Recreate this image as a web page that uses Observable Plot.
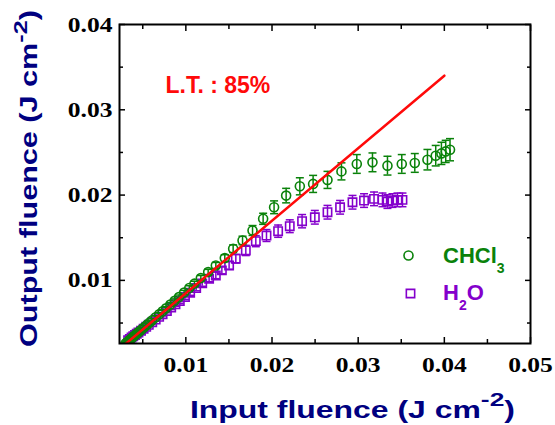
<!DOCTYPE html>
<html><head><meta charset="utf-8">
<script src="https://cdn.jsdelivr.net/npm/d3@7"></script>
<script src="https://cdn.jsdelivr.net/npm/@observablehq/plot@0.6"></script>
<style>
html,body{margin:0;padding:0;background:#fff;}
#chart{width:555px;height:425px;}
</style></head><body><div id="chart"></div>
<script>
// CHCl3 series (input fluence, output fluence, error)
const chclX = [0.0030,0.0032,0.0034,0.0036,0.0038,0.0040,0.0042,0.0044,0.0046,0.0049,0.0052,0.0055,0.0058,0.0061,0.0065,0.0069,0.0073,0.0077,0.0082,0.0087,0.0092,0.0098,0.0104,0.0110,
  0.01174,0.01259,0.01348,0.01452,0.01549,0.01658,0.01774,0.01897,0.02024,0.02164,0.02323,0.02477,0.02644,0.02806,0.02984,0.03166,0.0334,0.03506,0.03657,0.03804,0.0390,0.03966,0.04016,0.04066];
const chclY = [0.00261,0.00278,0.00296,0.00313,0.00331,0.00348,0.00366,0.00384,0.00401,0.00427,0.00453,0.00480,0.00506,0.00532,0.00567,0.00602,0.00637,0.00672,0.00716,0.00760,0.00804,0.00857,0.00910,0.00962,
  0.01027,0.01097,0.01175,0.01261,0.01371,0.01468,0.01585,0.01722,0.01857,0.01994,0.02103,0.02131,0.02178,0.02278,0.02365,0.02384,0.02345,0.02365,0.02377,0.02415,0.02462,0.02489,0.02512,0.02532];
const chclErr = [0.0001,0.0001,0.0001,0.00011,0.00011,0.00012,0.00012,0.00013,0.00013,0.00014,0.00015,0.00016,0.00017,0.00017,0.00018,0.00019,0.0002,0.00021,0.00022,0.00023,0.00024,0.00025,0.00027,0.00028,
  0.0003,0.00032,0.00035,0.0004,0.00045,0.0005,0.00058,0.00065,0.00075,0.00085,0.001,0.001,0.001,0.001,0.0011,0.0011,0.0011,0.0011,0.0011,0.0012,0.0012,0.0013,0.0013,0.0013];

// H2O series
const h2oX = [0.0033,0.0035,0.0037,0.0039,0.0041,0.0043,0.0045,0.0048,0.0051,0.0054,0.0057,0.0061,0.0065,0.0069,0.0073,0.0078,0.0083,0.0088,0.0093,0.0099,0.0105,0.0112,0.0119,
  0.0127,0.01348,0.01418,0.01502,0.0158,0.01696,0.01812,0.01936,0.02071,0.02206,0.02349,0.02497,0.02644,0.0279,0.02934,0.03068,0.03184,0.03282,0.0334,0.03398,0.03456,0.03514];
const h2oY = [0.00298,0.00314,0.0033,0.00345,0.0036,0.00374,0.00388,0.0041,0.00433,0.00456,0.00479,0.0051,0.00541,0.00572,0.00603,0.00642,0.00681,0.0072,0.00759,0.00806,0.00855,0.0091,0.00965,
  0.0102,0.01058,0.01117,0.01175,0.01254,0.01351,0.0146,0.01526,0.01577,0.01635,0.01694,0.0174,0.01799,0.01857,0.01916,0.01936,0.01956,0.01944,0.01924,0.01936,0.01944,0.01944];
const h2oErr = [0.0001,0.00011,0.00012,0.00012,0.00013,0.00013,0.00014,0.00014,0.00015,0.00016,0.00017,0.00018,0.00019,0.0002,0.00021,0.00022,0.00024,0.00025,0.00027,0.00028,0.0003,0.00032,0.00034,
  0.00036,0.00038,0.0004,0.00045,0.0005,0.0006,0.00065,0.0007,0.00072,0.00075,0.00078,0.0008,0.0008,0.0008,0.0008,0.0008,0.0008,0.0008,0.0008,0.0008,0.0008,0.0008];

// Linear transmittance line (85 %)
const ltX = [0.0030, 0.0400];
const ltY = [0.00255, 0.0340];
const ltLabel = ["L.T. : 85%"];

const xTicks = [0.01, 0.02, 0.03, 0.04, 0.05];
const xMinor = [0.005, 0.015, 0.025, 0.035, 0.045];
const yTicks = [0.01, 0.02, 0.03, 0.04];
const yMinor = [0.005, 0.015, 0.025, 0.035];

const GREEN = "#0a820a", PURPLE = "#8400cc", RED = "#ff0a0a", NAVY = "#000080";

const chcl = chclX.map((x, i) => ({x, y: chclY[i], e: chclErr[i]}));
const h2o = h2oX.map((x, i) => ({x, y: h2oY[i], e: h2oErr[i]}));
const lt = ltX.map((x, i) => ({x, y: ltY[i]}));

const capSymbol = { draw(ctx, size) { const w = Math.sqrt(size / Math.PI); ctx.moveTo(-w, 0); ctx.lineTo(w, 0); } };
const sans = "Liberation Sans, Arial, sans-serif";
const serif = "Liberation Serif, serif";

function errMarks(data, color, symbol) {
  return [
    Plot.ruleX(data, {x: "x", y1: d => d.y - d.e, y2: d => d.y + d.e, stroke: color, strokeWidth: 1.5, clip: true}),
    Plot.dot(data, {x: "x", y: d => d.y + d.e, symbol: capSymbol, r: 4, stroke: color, strokeWidth: 1.5, fill: "none", clip: true}),
    Plot.dot(data, {x: "x", y: d => d.y - d.e, symbol: capSymbol, r: 4, stroke: color, strokeWidth: 1.5, fill: "none", clip: true}),
    Plot.dot(data, {x: "x", y: "y", symbol, r: symbol === "circle" ? 4.5 : 4.7, stroke: color, strokeWidth: 1.6, fill: "none", clip: true})
  ];
}
const tickOpts = {tickFormat: () => "", label: null, strokeWidth: 1.5};

const plot = Plot.plot({
  width: 555, height: 425,
  marginLeft: 119, marginRight: 25, marginTop: 24, marginBottom: 82,
  style: {background: "white", color: "black"},
  x: {domain: [0.0023, 0.05], label: null},
  y: {domain: [0.0026, 0.04], label: null},
  marks: [
    Plot.axisX(xTicks, {anchor: "bottom", tickSize: -6, ...tickOpts}),
    Plot.axisX(xMinor, {anchor: "bottom", tickSize: -4, ...tickOpts}),
    Plot.axisX(xTicks, {anchor: "top", tickSize: -6, ...tickOpts}),
    Plot.axisX(xMinor, {anchor: "top", tickSize: -4, ...tickOpts}),
    Plot.axisY(yTicks, {anchor: "left", tickSize: -6, ...tickOpts}),
    Plot.axisY(yMinor, {anchor: "left", tickSize: -4, ...tickOpts}),
    Plot.axisY(yTicks, {anchor: "right", tickSize: -6, ...tickOpts}),
    Plot.axisY(yMinor, {anchor: "right", tickSize: -4, ...tickOpts}),
    Plot.axisX(xTicks, {anchor: "bottom", tickSize: 0, tickPadding: 13, tickFormat: d => d.toFixed(2), label: null, fontSize: 22, fontFamily: serif, fontWeight: "bold", fill: "black"}),
    Plot.axisY(yTicks, {anchor: "left", tickSize: 0, tickPadding: 7, tickFormat: d => d.toFixed(2), label: null, fontSize: 22, fontFamily: serif, fontWeight: "bold", fill: "black"}),
    ...errMarks(h2o, PURPLE, "square"),
    ...errMarks(chcl, GREEN, "circle"),
    Plot.line(lt, {x: "x", y: "y", stroke: RED, strokeWidth: 2.5, clip: true}),
    Plot.text(ltLabel, {frameAnchor: "top-left", dx: 46, dy: 68, text: d => d, textAnchor: "start", lineAnchor: "bottom", fill: RED, fontSize: 23, fontFamily: sans, fontWeight: "bold"}),
    Plot.dot([0], {frameAnchor: "top-left", dx: 289, dy: 231, symbol: "circle", r: 4.5, stroke: GREEN, strokeWidth: 1.6, fill: "none"}),
    Plot.dot([0], {frameAnchor: "top-left", dx: 291, dy: 269, symbol: "square", r: 4.7, stroke: PURPLE, strokeWidth: 1.6, fill: "none"}),
    Plot.frame({stroke: "black", strokeWidth: 2})
  ]
});
document.getElementById("chart").append(plot);
const svg = d3.select(plot);

// horizontally widened tick labels like the reference
svg.selectAll('g[aria-label$="tick label"] text').each(function () {
  const w = this.getComputedTextLength();
  if (w > 0) { this.setAttribute("textLength", (w * 1.16).toFixed(1)); this.setAttribute("lengthAdjust", "spacingAndGlyphs"); }
});

function title(parent, attrs, main, sup, supDy, length) {
  const t = parent.append("text").attr("fill", NAVY).attr("text-anchor", "start")
    .style("font-family", sans).style("font-weight", "bold").style("font-size", "23px");
  for (const k in attrs) t.attr(k, attrs[k]);
  t.append("tspan").text(main);
  t.append("tspan").attr("dy", -supDy).style("font-size", "19px").text(sup);
  t.append("tspan").attr("dy", supDy).text(")");
  t.attr("textLength", length).attr("lengthAdjust", "spacingAndGlyphs");
  return t;
}
title(svg, {x: 190, y: 418}, "Input fluence (J cm", "-2", 12, 325);
title(svg, {transform: "translate(37,347) rotate(-90)"}, "Output fluence (J cm", "-2", 10, 337);

// legend labels
const leg1 = svg.append("text").attr("x", 443).attr("y", 263).attr("fill", GREEN).attr("text-anchor", "start")
  .style("font-family", sans).style("font-weight", "bold").style("font-size", "22px");
leg1.append("tspan").text("CHCl");
leg1.append("tspan").attr("dy", 10).style("font-size", "14px").text("3");
const leg2 = svg.append("text").attr("x", 443).attr("y", 300).attr("fill", PURPLE).attr("text-anchor", "start")
  .style("font-family", sans).style("font-weight", "bold").style("font-size", "22px");
leg2.append("tspan").text("H");
leg2.append("tspan").attr("dy", 10).style("font-size", "14px").text("2");
leg2.append("tspan").attr("dy", -10).text("O");
</script>
</body></html>
